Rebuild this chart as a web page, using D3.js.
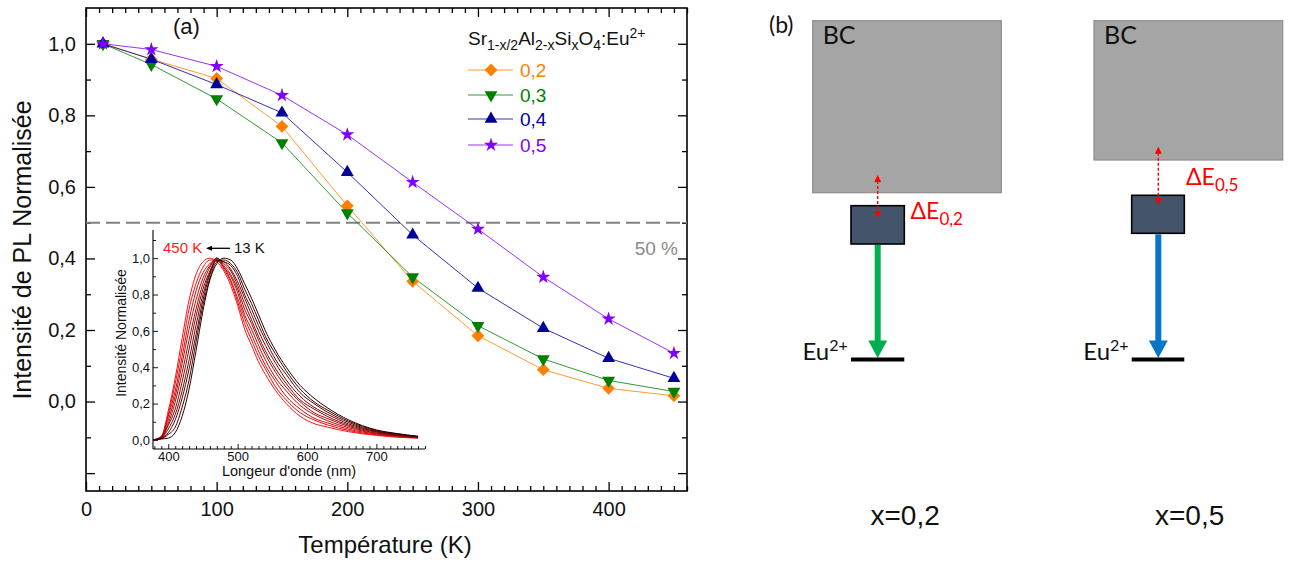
<!DOCTYPE html>
<html><head><meta charset="utf-8">
<script src="https://cdn.jsdelivr.net/npm/d3@7"></script>
<style>body{margin:0;background:#fff}</style>
</head><body>
<svg id="c" width="1293" height="563" xmlns="http://www.w3.org/2000/svg"></svg>
<script>
// ---------- main panel data ----------
const temps = [13, 50, 100, 150, 200, 250, 300, 350, 400, 450];
const seriesLabels = ["0,2", "0,3", "0,4", "0,5"];
const vals02 = [1.0, 0.957, 0.903, 0.769, 0.547, 0.336, 0.184, 0.089, 0.037, 0.016];
const vals03 = [1.0, 0.942, 0.846, 0.723, 0.527, 0.348, 0.212, 0.119, 0.059, 0.028];
const vals04 = [1.0, 0.957, 0.886, 0.807, 0.641, 0.466, 0.317, 0.205, 0.121, 0.065];
const vals05 = [1.0, 0.984, 0.937, 0.856, 0.746, 0.613, 0.482, 0.348, 0.231, 0.135];
const xTickLabels = [0, 100, 200, 300, 400];
const yTickLabels = [0.0, 0.2, 0.4, 0.6, 0.8, 1.0];
const halfLevel = 0.5;

// ---------- inset data (normalised spectra, 13 K ... 450 K) ----------
const insetTemps = [13, 50, 100, 150, 200, 250, 300, 350, 400, 450];
const wavelengths = [378, 390, 400, 410, 420, 430, 440, 450, 460, 470, 480, 490, 500, 510, 520, 530, 540, 555, 570, 590, 610, 630, 660, 700, 730, 760];
const spec13  = [0, .005, .01, .04, .13, .28, .49, .71, .88, .97, 1.0, .99, .94, .86, .78, .69, .60, .49, .40, .30, .23, .175, .11, .055, .035, .02];
const spec50  = [0, .007, .03, .07, .18, .33, .54, .74, .89, .98, .99, .97, .92, .83, .75, .66, .57, .47, .38, .28, .21, .163, .103, .052, .033, .019];
const spec100 = [0, .008, .04, .11, .23, .39, .58, .77, .91, .99, .98, .96, .90, .80, .72, .63, .55, .44, .36, .26, .20, .152, .096, .048, .031, .018];
const spec150 = [0, .01, .06, .14, .27, .44, .63, .80, .92, .99, .98, .94, .87, .78, .69, .60, .52, .42, .33, .24, .18, .14, .088, .045, .028, .017];
const spec200 = [0, .012, .08, .17, .32, .50, .68, .83, .93, 1.0, .97, .93, .85, .75, .66, .57, .49, .39, .31, .22, .17, .128, .081, .042, .026, .016];
const spec250 = [0, .013, .09, .21, .37, .55, .72, .86, .95, 1.0, .96, .91, .83, .72, .64, .55, .47, .37, .29, .21, .15, .117, .074, .038, .024, .014];
const spec300 = [0, .015, .11, .24, .42, .61, .77, .89, .96, 1.0, .95, .90, .81, .69, .61, .52, .44, .34, .27, .19, .14, .105, .067, .035, .022, .013];
const spec350 = [0, .017, .13, .27, .46, .66, .82, .92, .97, .99, .95, .88, .78, .67, .58, .49, .41, .32, .24, .17, .12, .093, .059, .032, .02, .012];
const spec400 = [0, .018, .14, .31, .51, .72, .86, .95, .99, .99, .94, .87, .76, .64, .55, .46, .39, .29, .22, .15, .11, .082, .052, .028, .017, .011];
const spec450 = [0, .02, .16, .34, .56, .77, .91, .98, 1.0, .98, .93, .85, .74, .61, .52, .43, .36, .27, .20, .13, .09, .07, .045, .025, .015, .01];
const insetXTicks = [400, 500, 600, 700];
const insetYTicks = [0.0, 0.2, 0.4, 0.6, 0.8, 1.0];

// ---------- setup ----------
const svg = d3.select("#c");
const fmt = d => d3.format(".1f")(d).replace(".", ",");
const FA = "'Liberation Sans', Arial, sans-serif";
const FB = "Lato, 'Open Sans', sans-serif";

const series = [
  {name: seriesLabels[0], vals: vals02, color: "#ff8000", sym: d3.symbolSquare, rot: 45, size: 82},
  {name: seriesLabels[1], vals: vals03, color: "#008000", sym: d3.symbolTriangle, rot: 180, size: 72},
  {name: seriesLabels[2], vals: vals04, color: "#000099", sym: d3.symbolTriangle, rot: 0, size: 72},
  {name: seriesLabels[3], vals: vals05, color: "#8000ff", sym: d3.symbolStar, rot: 0, size: 62}
];

const W = {l: 86, r: 687, t: 8, b: 491};
const x = d3.scaleLinear([0, 460], [W.l, W.r]);
const y = d3.scaleLinear([-0.25, 1.1], [W.b, W.t]);

const gA = svg.append("g").attr("font-family", FA);

// axes with inward ticks
function styleAxis(g) { g.select(".domain").remove(); g.selectAll("line").attr("stroke", "#000").attr("stroke-width", 1.3); }
const xMinor = d3.range(0, 461, 10).filter(v => v % 100 !== 0);
const yMajor = [-0.2, 0, 0.2, 0.4, 0.6, 0.8, 1.0];
const yMinor = [-0.1, 0.1, 0.3, 0.5, 0.7, 0.9];

gA.append("g").attr("transform", `translate(0,${W.b})`)
  .call(d3.axisBottom(x).tickValues(xTickLabels).tickSize(-9).tickPadding(11).tickFormat(d3.format("d")))
  .call(styleAxis).call(g => g.selectAll("text").attr("font-size", 20).attr("font-family", FA).attr("fill", "#111"));
gA.append("g").attr("transform", `translate(0,${W.b})`)
  .call(d3.axisBottom(x).tickValues(xMinor).tickSize(-5).tickFormat("")).call(styleAxis);
gA.append("g").attr("transform", `translate(0,${W.t})`)
  .call(d3.axisTop(x).tickValues(xTickLabels).tickSize(-9).tickFormat("")).call(styleAxis);
gA.append("g").attr("transform", `translate(0,${W.t})`)
  .call(d3.axisTop(x).tickValues(xMinor).tickSize(-5).tickFormat("")).call(styleAxis);
gA.append("g").attr("transform", `translate(${W.l},0)`)
  .call(d3.axisLeft(y).tickValues(yMajor).tickSize(-9).tickPadding(10).tickFormat(d => yTickLabels.includes(+d.toFixed(1)) && d >= 0 ? fmt(d) : ""))
  .call(styleAxis).call(g => g.selectAll("text").attr("font-size", 20).attr("font-family", FA).attr("fill", "#111"));
gA.append("g").attr("transform", `translate(${W.l},0)`)
  .call(d3.axisLeft(y).tickValues(yMinor).tickSize(-5).tickFormat("")).call(styleAxis);
gA.append("g").attr("transform", `translate(${W.r},0)`)
  .call(d3.axisRight(y).tickValues(yMajor).tickSize(-9).tickFormat("")).call(styleAxis);
gA.append("g").attr("transform", `translate(${W.r},0)`)
  .call(d3.axisRight(y).tickValues(yMinor).tickSize(-5).tickFormat("")).call(styleAxis);

gA.append("rect").attr("x", W.l).attr("y", W.t).attr("width", W.r - W.l).attr("height", W.b - W.t)
  .attr("fill", "none").attr("stroke", "#000").attr("stroke-width", 1.6);

// 50 % line
gA.append("line").attr("x1", W.l).attr("x2", W.r).attr("y1", y(halfLevel)).attr("y2", y(halfLevel))
  .attr("stroke", "#808080").attr("stroke-width", 2).attr("stroke-dasharray", "14,6");
gA.append("text").attr("x", 678).attr("y", 255).attr("text-anchor", "end").attr("font-size", 19)
  .attr("fill", "#8a8a8a").text("50 %");

// axis titles
gA.append("text").attr("x", 385).attr("y", 553).attr("text-anchor", "middle").attr("font-size", 24).attr("fill", "#111").text("Température (K)");
gA.append("text").attr("transform", "translate(31,250) rotate(-90)").attr("text-anchor", "middle").attr("font-size", 25).attr("fill", "#111").text("Intensité de PL Normalisée");
gA.append("text").attr("x", 173).attr("y", 34).attr("font-size", 22).attr("fill", "#111").text("(a)");

// series
const line = d3.line().x((d, i) => x(temps[i])).y(d => y(d));
series.forEach(s => {
  gA.append("path").attr("d", line(s.vals)).attr("fill", "none").attr("stroke", s.color).attr("stroke-width", 1).attr("stroke-opacity", 0.8);
});
series.forEach(s => {
  gA.selectAll(null).data(s.vals).join("path")
    .attr("d", d3.symbol(s.sym, s.size))
    .attr("transform", (d, i) => `translate(${x(temps[i])},${y(d)}) rotate(${s.rot})`)
    .attr("fill", s.color);
});

// legend
const lg = gA.append("g");
const lt = lg.append("text").attr("x", 468).attr("y", 45).attr("font-size", 19).attr("fill", "#111");
[["Sr", 0], ["1-x/2", 1], ["Al", 0], ["2-x", 1], ["Si", 0], ["x", 1], ["O", 0], ["4", 1], [":Eu", 0], ["2+", 2]].forEach(([t, k], i, arr) => {
  const prev = i > 0 ? arr[i - 1][1] : 0;
  const off = v => v === 1 ? 5 : v === 2 ? -7 : 0;
  lt.append("tspan").attr("dy", off(k) - off(prev)).attr("font-size", k ? 14 : 19).text(t);
});
const legY = [70, 95, 119, 145];
series.forEach((s, i) => {
  lg.append("line").attr("x1", 468).attr("x2", 513).attr("y1", legY[i]).attr("y2", legY[i]).attr("stroke", s.color).attr("stroke-width", 1).attr("stroke-opacity", 0.8);
  lg.append("path").attr("d", d3.symbol(s.sym, s.size)).attr("transform", `translate(491,${legY[i]}) rotate(${s.rot})`).attr("fill", s.color);
  lg.append("text").attr("x", 520).attr("y", legY[i]).attr("dy", "0.36em").attr("font-size", 19).attr("fill", s.color).text(s.name);
});

// ---------- inset ----------
const I = {l: 153, r: 425, t: 230, b: 449};
const xi = d3.scaleLinear([378, 770], [I.l, I.r]);
const yi = d3.scaleLinear([-0.05, 1.155], [I.b, I.t]);
const gI = gA.append("g");
function styleI(g) { g.select(".domain").remove(); g.selectAll("line").attr("stroke", "#000").attr("stroke-width", 0.9); }
gI.append("g").attr("transform", `translate(0,${I.b})`)
  .call(d3.axisBottom(xi).tickValues(insetXTicks).tickSize(-5).tickPadding(3).tickFormat(d3.format("d")))
  .call(styleI).call(g => g.selectAll("text").attr("font-size", 13).attr("font-family", FA).attr("fill", "#111"));
gI.append("g").attr("transform", `translate(0,${I.b})`)
  .call(d3.axisBottom(xi).tickValues(d3.range(380, 771, 10).filter(v => v % 100 !== 0)).tickSize(-3).tickFormat("")).call(styleI);
gI.append("g").attr("transform", `translate(${I.l},0)`)
  .call(d3.axisLeft(yi).tickValues(insetYTicks).tickSize(-5).tickPadding(3).tickFormat(fmt))
  .call(styleI).call(g => g.selectAll("text").attr("font-size", 13).attr("font-family", FA).attr("fill", "#111"));
gI.append("g").attr("transform", `translate(${I.l},0)`)
  .call(d3.axisLeft(yi).tickValues([0.1, 0.3, 0.5, 0.7, 0.9, 1.1]).tickSize(-3).tickFormat("")).call(styleI);
gI.append("line").attr("x1", I.l).attr("x2", I.l).attr("y1", I.t).attr("y2", I.b).attr("stroke", "#000").attr("stroke-width", 1.1);
gI.append("line").attr("x1", I.l).attr("x2", I.r).attr("y1", I.b).attr("y2", I.b).attr("stroke", "#000").attr("stroke-width", 1.1);

const spectra = [spec13, spec50, spec100, spec150, spec200, spec250, spec300, spec350, spec400, spec450];
const specColor = d3.scaleLinear([0, spectra.length - 1], ["#2a0000", "#ff0d0d"]).interpolate(d3.interpolateRgb);
const sline = d3.line().x((d, i) => xi(wavelengths[i])).y(d => yi(d)).curve(d3.curveMonotoneX);
spectra.slice().reverse().forEach((sp, j) => {
  const k = spectra.length - 1 - j;
  gI.append("path").attr("d", sline(sp)).attr("fill", "none").attr("stroke", specColor(k)).attr("stroke-width", 1);
});
gI.append("text").attr("transform", "translate(126,333) rotate(-90)").attr("text-anchor", "middle").attr("font-size", 14).attr("fill", "#111").text("Intensité Normalisée");
gI.append("text").attr("x", 289).attr("y", 476).attr("text-anchor", "middle").attr("font-size", 14.5).attr("fill", "#111").text("Longeur d'onde (nm)");
gI.append("text").attr("x", 163).attr("y", 253).attr("font-size", 15).attr("fill", "#ff1a1a").text(insetTemps[insetTemps.length - 1] + " K");
gI.append("text").attr("x", 234).attr("y", 253).attr("font-size", 15).attr("fill", "#111").text(insetTemps[0] + " K");
gI.append("line").attr("x1", 230).attr("x2", 211).attr("y1", 248.3).attr("y2", 248.3).attr("stroke", "#000").attr("stroke-width", 1.3);
gI.append("path").attr("d", "M206,248.3 L212,245.8 L212,250.8 Z").attr("fill", "#000");

// ---------- panel (b) ----------
const gB = svg.append("g").attr("font-family", FB);
gB.append("text").attr("x", 769).attr("y", 33).attr("font-size", 23).attr("fill", "#111").text("(b)");
const cols = [
  {box: [812.7, 20.7, 1001.3, 192.7], trap: [851, 205.7, 904.3, 244], ax: 877.7, dTop: 175, dBot: 218, sub: "0,2", lx: 910.5, ly: 218.5, color: "#00b050", eux: 802.5, xl: 870.5, xt: "x=0,2"},
  {box: [1094, 20.7, 1282.7, 160], trap: [1131.7, 195.3, 1184.3, 233.3], ax: 1158.3, dTop: 146.7, dBot: 205, sub: "0,5", lx: 1186, ly: 185, color: "#0875c8", eux: 1083.3, xl: 1155, xt: "x=0,5"}
];
cols.forEach(c => {
  gB.append("rect").attr("x", c.box[0]).attr("y", c.box[1]).attr("width", c.box[2] - c.box[0]).attr("height", c.box[3] - c.box[1])
    .attr("fill", "#a5a5a5").attr("stroke", "#8c8c8c").attr("stroke-width", 1.2);
  gB.append("text").attr("x", c.box[0] + 10).attr("y", c.box[1] + 23).attr("font-size", 25).attr("fill", "#111").text("BC");
  gB.append("rect").attr("x", c.trap[0]).attr("y", c.trap[1]).attr("width", c.trap[2] - c.trap[0]).attr("height", c.trap[3] - c.trap[1])
    .attr("fill", "#44546a").attr("stroke", "#000").attr("stroke-width", 1.6);
  // emission arrow
  const headTop = 340.5, headBot = 358;
  gB.append("line").attr("x1", c.ax).attr("x2", c.ax).attr("y1", c.trap[3] + 1).attr("y2", headTop + 1)
    .attr("stroke", c.color).attr("stroke-width", 6);
  gB.append("path").attr("d", `M${c.ax - 9.5},${headTop} L${c.ax + 9.5},${headTop} L${c.ax},${headBot} Z`).attr("fill", c.color);
  // ground level
  gB.append("line").attr("x1", c.trap[0]).attr("x2", c.trap[2]).attr("y1", 359.5).attr("y2", 359.5).attr("stroke", "#000").attr("stroke-width", 4);
  // red dashed double arrow
  gB.append("line").attr("x1", c.ax).attr("x2", c.ax).attr("y1", c.dTop + 6).attr("y2", c.dBot - 6)
    .attr("stroke", "#ff0000").attr("stroke-width", 1.4).attr("stroke-dasharray", "3,2");
  gB.append("path").attr("d", `M${c.ax},${c.dTop} L${c.ax - 3.5},${c.dTop + 7} L${c.ax + 3.5},${c.dTop + 7} Z`).attr("fill", "#ff0000");
  gB.append("path").attr("d", `M${c.ax},${c.dBot} L${c.ax - 3.5},${c.dBot - 7} L${c.ax + 3.5},${c.dBot - 7} Z`).attr("fill", "#ff0000");
  const de = gB.append("text").attr("x", c.lx).attr("y", c.ly).attr("font-size", 23).attr("fill", "#ff0000");
  de.append("tspan").text("ΔE");
  de.append("tspan").attr("dy", 6).attr("font-size", 17).text(c.sub);
  const eu = gB.append("text").attr("x", c.eux).attr("y", 360).attr("font-size", 24).attr("fill", "#111");
  eu.append("tspan").text("Eu");
  eu.append("tspan").attr("dy", -9).attr("font-size", 16).text("2+");
  gB.append("text").attr("x", c.xl).attr("y", 525).attr("font-size", 28).attr("font-family", FA).attr("fill", "#111").text(c.xt);
});
</script>
</body></html>
